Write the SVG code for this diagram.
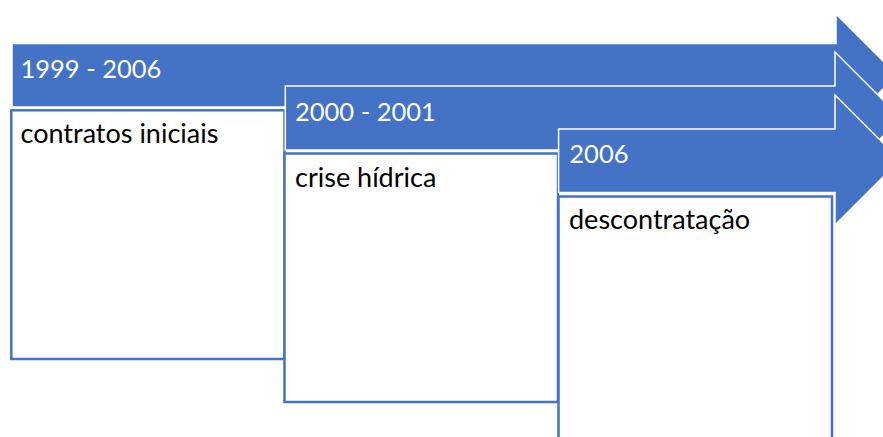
<svg xmlns="http://www.w3.org/2000/svg" width="883" height="437" viewBox="0 0 883 437">
  <style>
    .arrow { fill: #4472C4; stroke: #FFFFFF; stroke-width: 1.5; stroke-linejoin: miter; }
    .box { fill: #FFFFFF; stroke: #4472C4; stroke-width: 2.5; }
    .hdr { font-family: Lato, "Liberation Sans", sans-serif; font-size: 25.5px; fill: #FFFFFF; }
    .body { font-family: Lato, "Liberation Sans", sans-serif; font-size: 27px; fill: #000000; }
  </style>
  <rect x="0" y="0" width="883" height="437" fill="#FFFFFF"/>
  <g id="connectors"></g>
  <g id="step1">
    <path class="arrow" d="M12,43.5 H836 V14 L897,75 L836,136 V107 H12 Z"/>
    <text class="hdr" x="20.5" y="77.5">1999 - 2006</text>
    <rect class="box" x="11.3" y="110.3" width="273.2" height="248.7"/>
    <text class="body" x="20.5" y="143">contratos iniciais</text>
  </g>
  <g id="step2">
    <path class="arrow" d="M285.3,86 H835 V52 L901,118 L835,184 V150 H285.3 Z"/>
    <text class="hdr" x="295" y="120.7">2000 - 2001</text>
    <rect class="box" x="284.5" y="153.5" width="273.5" height="248.5"/>
    <text class="body" x="295" y="186.7">crise hídrica</text>
  </g>
  <g id="step3">
    <path class="arrow" d="M558.6,129 H835 V95 L900,160 L835,225 V192.5 H558.6 Z"/>
    <text class="hdr" x="569.3" y="163.3">2006</text>
    <rect class="box" x="558.5" y="196.5" width="273.5" height="248.5"/>
    <text class="body" x="569" y="229.3">descontratação</text>
  </g>
</svg>
